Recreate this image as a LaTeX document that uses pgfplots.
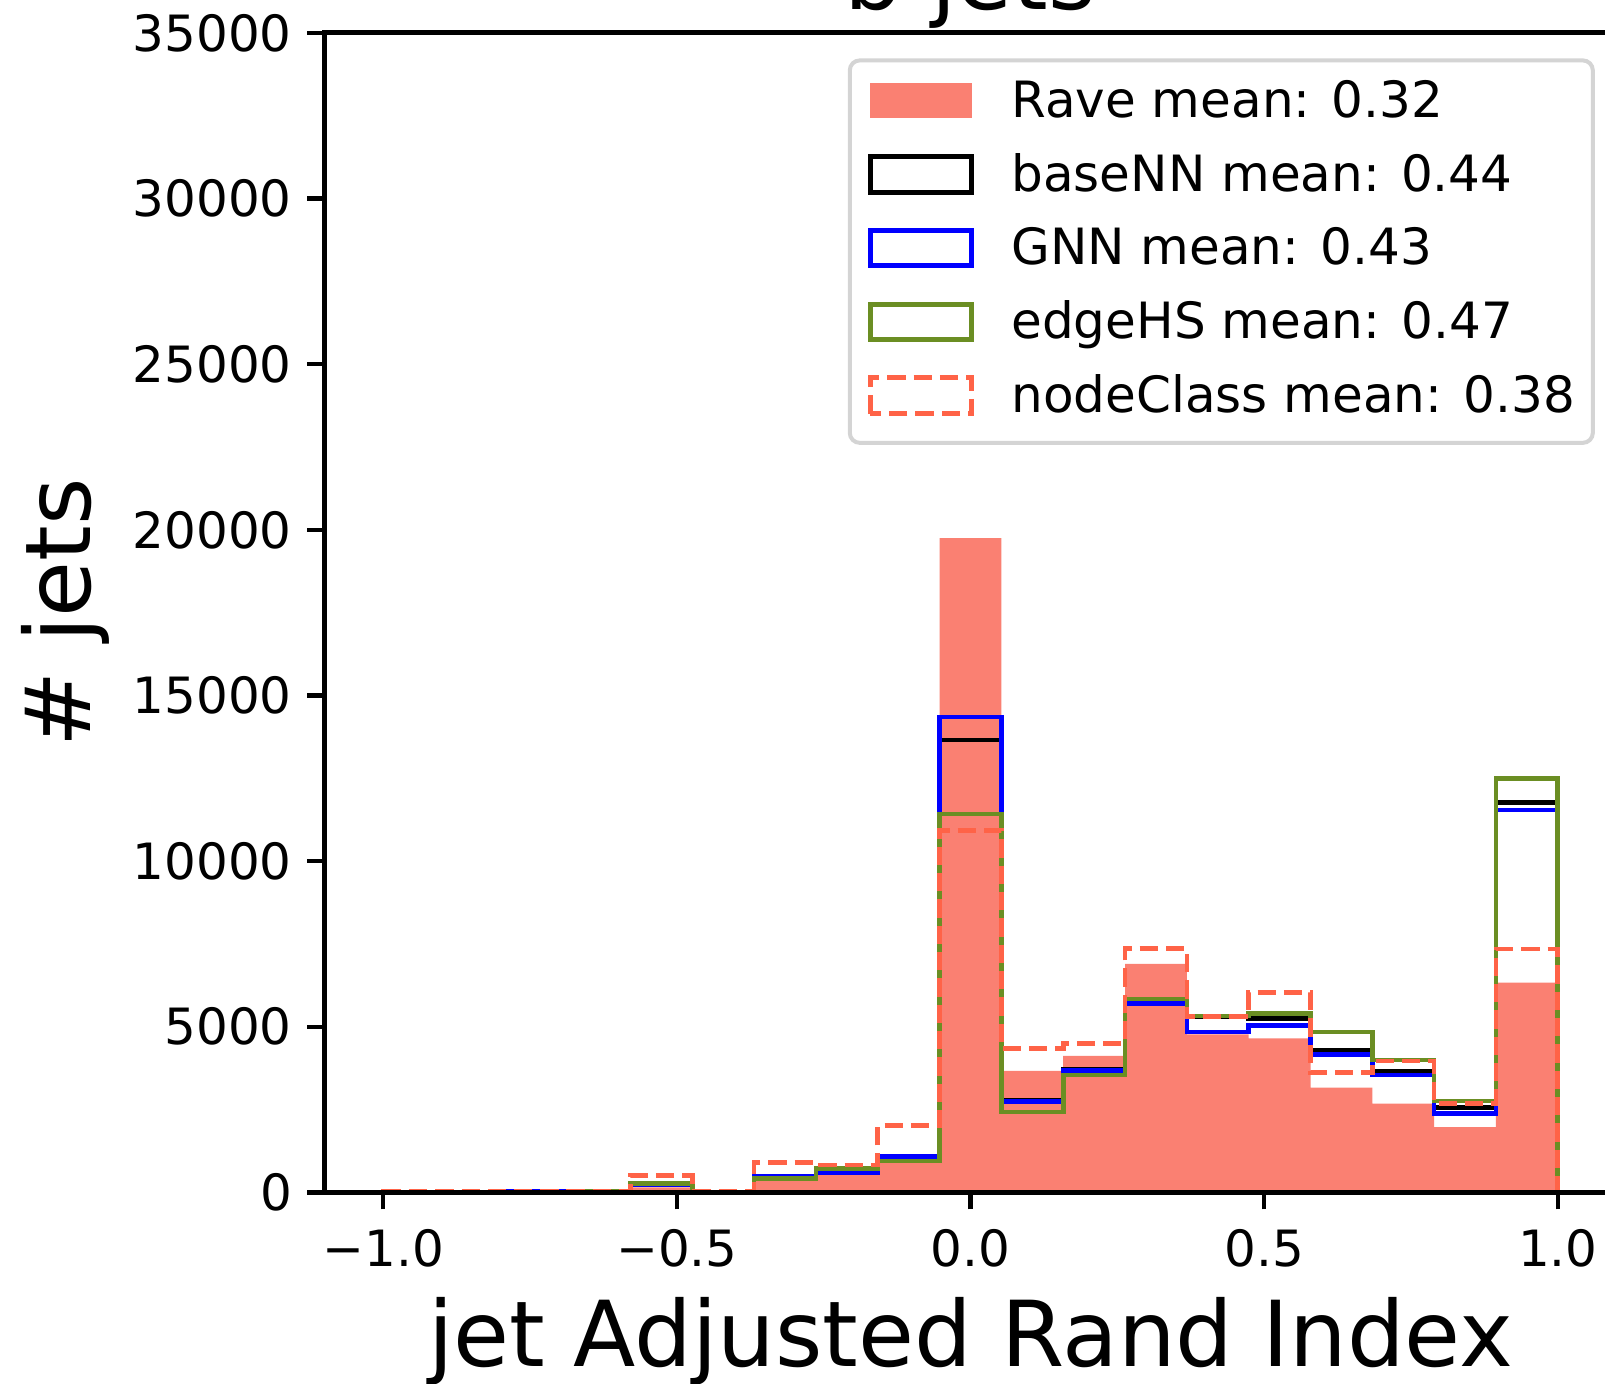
\documentclass[border=0pt]{standalone}
\usepackage{pgfplots}
\pgfplotsset{compat=1.18}
\usepackage{fontspec}
\setmainfont{DejaVu Sans}

\definecolor{salmonc}{HTML}{FA8072}
\definecolor{tomatoc}{HTML}{FF6347}
\definecolor{olivec}{HTML}{6B8E23}
\definecolor{gnnblue}{HTML}{0000FF}
\definecolor{frameg}{HTML}{D4D4D4}

\newcommand{\tickfont}{\fontsize{15}{18}\selectfont}
\newcommand{\labfont}{\fontsize{27.3}{32}\selectfont}

\begin{document}
\begin{tikzpicture}
\begin{axis}[
  at={(0,0)}, anchor=south west,
  scale only axis,
  width=387.6pt, height=347.85pt,
  xmin=-1.1, xmax=1.1, ymin=0, ymax=35000,
  axis on top,
  axis line style={line width=1.45pt},
  tick pos=left, tick align=outside,
  major tick length=5.1pt,
  every tick/.style={black, line width=1.3pt},
  xtick={-1,-0.5,0,0.5,1},
  xticklabels={−1.0,−0.5,0.0,0.5,1.0},
  ytick={0,5000,10000,15000,20000,25000,30000,35000},
  yticklabels={0,5000,10000,15000,20000,25000,30000,35000},
  /pgf/number format/assume math mode=true,
  ticklabel style={font=\tickfont},
  xticklabel style={anchor=base, inner sep=0pt, yshift=-17pt},
  yticklabel style={anchor=east, inner sep=0pt, xshift=-4.5pt},
  title={b jets},
  title style={at={(rel axis cs:0.5,1)}, anchor=base, inner sep=0pt, yshift=0.95pt, font=\labfont},
  xlabel={jet Adjusted Rand Index},
  xlabel style={at={(rel axis cs:0.5,0)}, anchor=base, inner sep=0pt, yshift=-52.1pt, font=\labfont},
  ylabel={\# jets},
  ylabel style={at={(rel axis cs:0,0.5)}, anchor=base, inner sep=0pt, yshift=70.05pt, font=\labfont},
  legend cell align=left,
  legend style={
    at={(rel axis cs:1,1)}, anchor=north east, xshift=-6.5pt, yshift=-7.65pt,
    draw=frameg, line width=1.2pt, rounded corners=3pt, fill=white,
    inner xsep=5.4pt, inner ysep=6.1pt,
    font=\tickfont,
    row sep=8.0pt, column sep=11.2pt,
    cells={anchor=base west},
    nodes={inner sep=0pt, text height=10.94pt, text depth=3pt},
  },
]

% Rave: filled histogram
\addplot[draw=none, fill=salmonc, const plot,
  legend image code/.code={\fill[salmonc, sharp corners] (0pt,-0.3pt) rectangle (30.4pt,10.4pt);}]
coordinates {
(-1.000000,5) (-0.894737,5) (-0.789474,10) (-0.684211,20) (-0.578947,150)
(-0.473684,10) (-0.368421,380) (-0.263158,540) (-0.157895,930) (-0.052632,19750)
(0.052632,3670) (0.157895,4120) (0.263158,6900) (0.368421,4770) (0.473684,4650)
(0.578947,3160) (0.684211,2680) (0.789474,1970) (0.894737,6330) (1.000000,6330)
} \closedcycle;
\addlegendentry{Rave mean: 0.32}

% baseNN
\addplot[black, line width=1.4pt, const plot,
  legend image code/.code={\draw[black, line width=1.5pt, sharp corners] (0pt,-0.3pt) rectangle (30.4pt,10.4pt);}]
coordinates {
(-1.000000,0)
(-1.000000,15) (-0.894737,15) (-0.789474,20) (-0.684211,30) (-0.578947,240)
(-0.473684,15) (-0.368421,500) (-0.263158,630) (-0.157895,1100) (-0.052632,13660)
(0.052632,2780) (0.157895,3700) (0.263158,5760) (0.368421,5300) (0.473684,5240)
(0.578947,4300) (0.684211,3650) (0.789474,2570) (0.894737,11760) (1.000000,11760)
(1.000000,0)
};
\addlegendentry{baseNN mean: 0.44}

% GNN
\addplot[gnnblue, line width=1.4pt, const plot,
  legend image code/.code={\draw[gnnblue, line width=1.5pt, sharp corners] (0pt,-0.3pt) rectangle (30.4pt,10.4pt);}]
coordinates {
(-1.000000,0)
(-1.000000,15) (-0.894737,15) (-0.789474,20) (-0.684211,30) (-0.578947,240)
(-0.473684,15) (-0.368421,490) (-0.263158,610) (-0.157895,1080) (-0.052632,14350)
(0.052632,2750) (0.157895,3680) (0.263158,5700) (0.368421,4840) (0.473684,5030)
(0.578947,4170) (0.684211,3540) (0.789474,2390) (0.894737,11540) (1.000000,11540)
(1.000000,0)
};
\addlegendentry{GNN mean: 0.43}

% edgeHS
\addplot[olivec, line width=1.4pt, const plot,
  legend image code/.code={\draw[olivec, line width=1.5pt, sharp corners] (0pt,-0.3pt) rectangle (30.4pt,10.4pt);}]
coordinates {
(-1.000000,0)
(-1.000000,10) (-0.894737,10) (-0.789474,15) (-0.684211,25) (-0.578947,260)
(-0.473684,10) (-0.368421,410) (-0.263158,730) (-0.157895,950) (-0.052632,11420)
(0.052632,2430) (0.157895,3540) (0.263158,5840) (0.368421,5320) (0.473684,5410)
(0.578947,4840) (0.684211,4000) (0.789474,2760) (0.894737,12500) (1.000000,12500)
(1.000000,0)
};
\addlegendentry{edgeHS mean: 0.47}

% nodeClass
\addplot[tomatoc, line width=1.4pt, dash pattern=on 5.5pt off 2.4pt, const plot,
  legend image code/.code={\draw[tomatoc, line width=1.5pt, dash pattern=on 5.5pt off 2.4pt, sharp corners] (0pt,-0.3pt) rectangle (30.4pt,10.4pt);}]
coordinates {
(-1.000000,0)
(-1.000000,20) (-0.894737,20) (-0.789474,30) (-0.684211,40) (-0.578947,510)
(-0.473684,20) (-0.368421,910) (-0.263158,830) (-0.157895,2010) (-0.052632,10930)
(0.052632,4340) (0.157895,4490) (0.263158,7360) (0.368421,5300) (0.473684,6040)
(0.578947,3610) (0.684211,3970) (0.789474,2690) (0.894737,7350) (1.000000,7350)
(1.000000,0)
};
\addlegendentry{nodeClass mean: 0.38}

\end{axis}
\pgfresetboundingbox
\useasboundingbox (-97.35pt,-57.18pt) rectangle (384.15pt,357.72pt);
\end{tikzpicture}
\end{document}
